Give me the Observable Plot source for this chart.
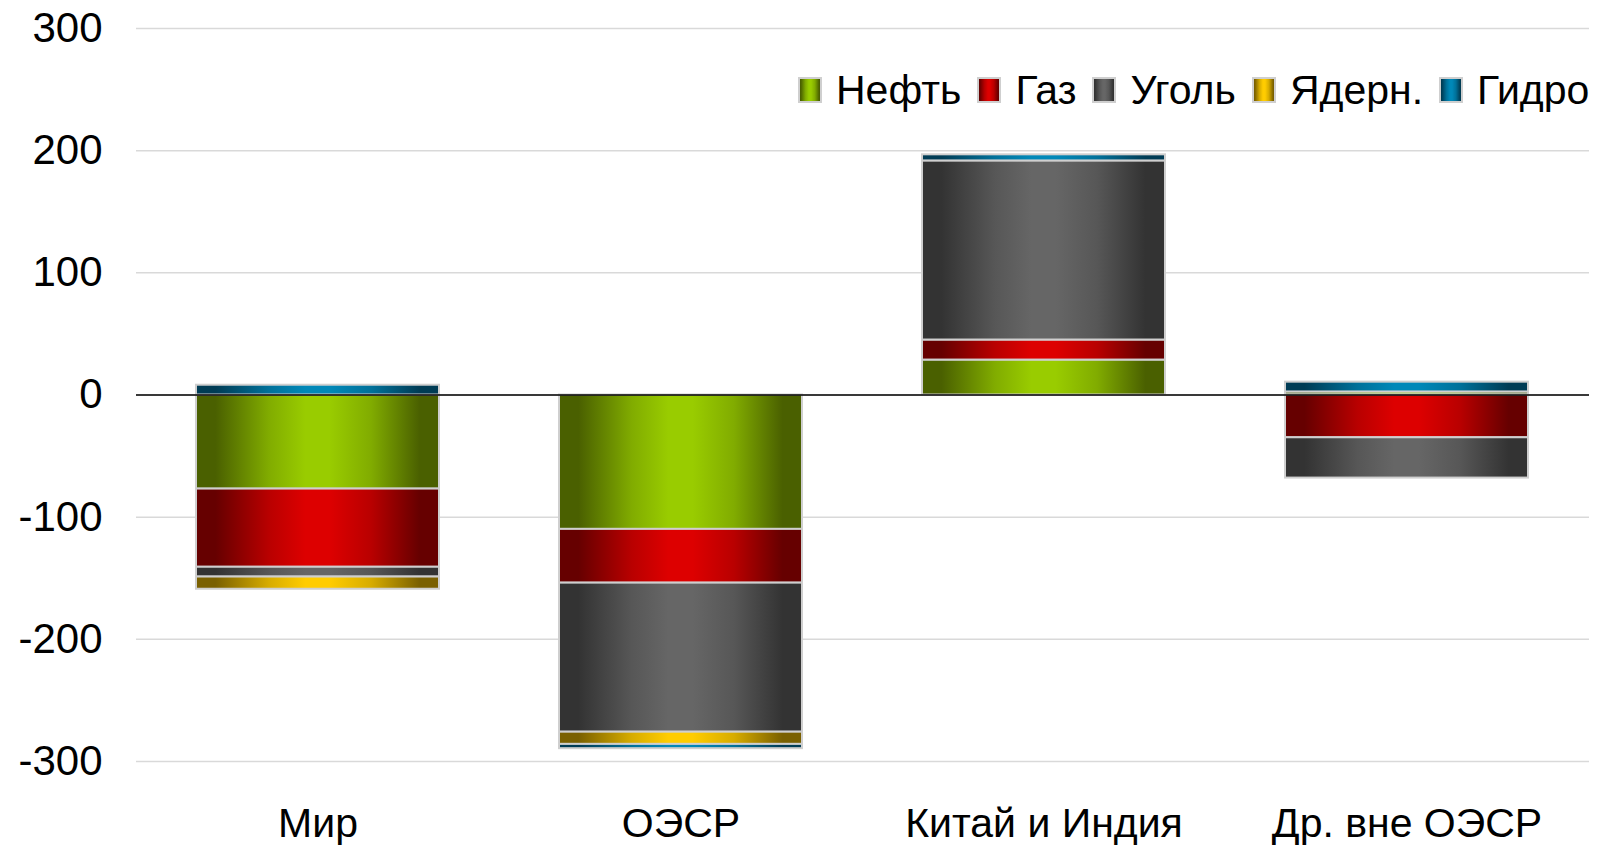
<!DOCTYPE html>
<html>
<head>
<meta charset="utf-8">
<script src="https://cdn.jsdelivr.net/npm/d3@7"></script>
<script src="https://cdn.jsdelivr.net/npm/@observablehq/plot@0.6"></script>
<style>
  html, body { margin: 0; padding: 0; background: #fff; }
  #wrap { position: relative; width: 1602px; height: 849px; font-family: "Liberation Sans", Arial, sans-serif; }
  #legend { position: absolute; left: 798px; top: 66px; display: flex; align-items: center; font-size: 41px; line-height: 48px; color: #000; white-space: nowrap; }
  #legend .item { display: flex; align-items: center; margin-right: 16px; }
  #legend .item:last-child { margin-right: 0; }
  #legend svg { margin-right: 14px; display: block; }
</style>
</head>
<body>
<div id="wrap"><div id="legend"></div></div>
<script>
// Data
const regions = ["Мир", "ОЭСР", "Китай и Индия", "Др. вне ОЭСР"];
const fuels = ["Нефть", "Газ", "Уголь", "Ядерн.", "Гидро"];
const oil     = [-77, -110, 28.6, 2.5];
const gas     = [-64, -44, 16.4, -35];
const coal    = [-8, -122, 146.6, -33];
const nuclear = [-10, -10, 0, 0];
const hydro   = [8, -3.5, 5, 8];
const yTicks  = [-300, -200, -100, 0, 100, 200, 300];

const seriesValues = [oil, gas, coal, nuclear, hydro];
const gradIds = ["g-oil", "g-gas", "g-coal", "g-nuc", "g-hydro"];
const gradColors = [
  ["#4a6000", "#99cc00"],
  ["#660000", "#dd0000"],
  ["#333333", "#666666"],
  ["#7a6000", "#ffcc00"],
  ["#003c55", "#0088b8"]
];

const rows = [];
regions.forEach((r, i) => {
  fuels.forEach((f, j) => {
    const v = seriesValues[j][i];
    if (v !== 0) rows.push({region: r, fuel: f, value: v});
  });
});

const chart = Plot.plot({
  width: 1602,
  height: 849,
  marginLeft: 136,
  marginRight: 13,
  marginTop: 28,
  marginBottom: 88,
  style: {fontFamily: "Liberation Sans, Arial, sans-serif", fontSize: "42px", color: "#000", background: "transparent"},
  x: {domain: regions, paddingInner: 0.33, paddingOuter: 0.165, label: null},
  y: {domain: [-300, 300], label: null},
  color: {domain: fuels, range: gradIds.map(id => `url(#${id})`)},
  marks: [
    Plot.gridY(yTicks, {stroke: "#d9d9d9", strokeOpacity: 1, strokeWidth: 1.5}),
    Plot.barY(rows, Plot.stackY({x: "region", y: "value", z: "fuel", fill: "fuel", stroke: "#cfcfcf", strokeWidth: 2, order: fuels})),
    Plot.ruleY([0], {stroke: "#000", strokeWidth: 1.5}),
    Plot.axisY({ticks: yTicks, tickSize: 0, tickPadding: 34, fontSize: 42, tickFormat: d => String(d), label: null}),
    Plot.axisX({tickSize: 0, tickPadding: 46, fontSize: 41, label: null})
  ]
});

function addDefs(svgSel) {
  const defs = svgSel.insert("defs", ":first-child");
  gradIds.forEach((id, k) => {
    const [dark, bright] = gradColors[k];
    const g = defs.append("linearGradient").attr("id", id).attr("x1", 0).attr("x2", 1).attr("y1", 0).attr("y2", 0);
    const mid = d3.interpolateRgb(dark, bright);
    [[0, dark], [0.08, dark], [0.3, mid(0.7)], [0.45, bright], [0.55, bright], [0.72, mid(0.7)], [0.92, dark], [1, dark]]
      .forEach(([o, c]) => g.append("stop").attr("offset", o).attr("stop-color", c));
  });
}
addDefs(d3.select(chart));
document.getElementById("wrap").insertBefore(chart, document.getElementById("legend"));

// Legend
const legend = d3.select("#legend");
fuels.forEach((f, k) => {
  const item = legend.append("div").attr("class", "item");
  const s = item.append("svg").attr("width", 24).attr("height", 26);
  s.append("rect").attr("x", 1).attr("y", 1).attr("width", 22).attr("height", 24)
    .attr("fill", `url(#${gradIds[k]})`).attr("stroke", "#cfcfcf").attr("stroke-width", 2);
  item.append("span").text(f);
});
</script>
</body>
</html>
